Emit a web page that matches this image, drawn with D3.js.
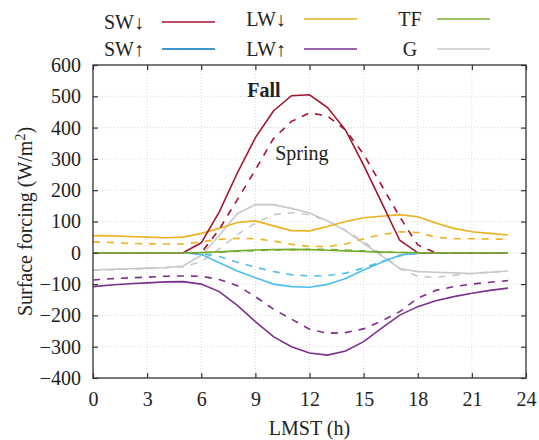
<!DOCTYPE html>
<html>
<head>
<meta charset="utf-8">
<script src="https://cdn.jsdelivr.net/npm/d3@7"></script>
<style>
  body { margin: 0; background: #fff; }
  text { font-family: "Liberation Serif", "Times New Roman", serif; fill: #222; }
</style>
</head>
<body>
<div id="chart"></div>
<script>
// hourly values, LMST 0..23
var hours = d3.range(0, 24);
var xTicks = [0, 3, 6, 9, 12, 15, 18, 21, 24];
var yTicks = [-400, -300, -200, -100, 0, 100, 200, 300, 400, 500, 600];

// Fall (solid)
var swDownFall = [0, 0, 0, 0, 0, 0, 32, 131, 255, 368, 453, 502, 505, 464, 392, 280, 160, 40, 0, 0, 0, 0, 0, 0];
var swUpFall = [0, 0, 0, 0, 0, 0, -5, -32, -58, -80, -100, -108, -110, -101, -82, -55, -30, -8, 0, 0, 0, 0, 0, 0];
var lwDownFall = [55, 54, 52, 50, 48, 50, 62, 78, 97, 102, 86, 71, 70, 84, 100, 112, 117, 122, 115, 95, 78, 67, 62, 57];
var lwUpFall = [-108, -103, -99, -96, -93, -92, -100, -124, -168, -220, -268, -300, -320, -327, -314, -284, -241, -199, -172, -153, -140, -129, -120, -113];
var tfFall = [0, 0, 0, 0, 0, 0, 1, 3, 6, 9, 10, 11, 10, 8, 6, 4, 2, 1, 0, 0, 0, 0, 0, 0];
var gFall = [-55, -53, -51, -49, -47, -42, -8, 55, 125, 154, 154, 142, 127, 102, 70, 30, -10, -50, -60, -62, -64, -66, -62, -58];

// Spring (dashed)
var swDownSpring = [0, 0, 0, 0, 0, 0, 0, 75, 170, 265, 365, 420, 447, 437, 392, 315, 215, 115, 25, 0, 0, 0, 0, 0];
var swUpSpring = [0, 0, 0, 0, 0, 0, -3, -12, -30, -46, -60, -70, -74, -73, -65, -48, -28, -10, -2, 0, 0, 0, 0, 0];
var lwDownSpring = [35, 33, 30, 29, 28, 28, 35, 43, 46, 45, 38, 27, 20, 20, 28, 45, 58, 67, 65, 50, 45, 45, 44, 43];
var lwUpSpring = [-87, -83, -80, -78, -75, -74, -75, -85, -105, -140, -180, -212, -244, -257, -255, -243, -218, -188, -145, -120, -108, -100, -94, -89];
var tfSpring = [0, 0, 0, 0, 0, 0, 0, 2, 5, 7, 9, 10, 11, 11, 9, 6, 3, 1, 0, 0, 0, 0, 0, 0];
var gSpring = [-55, -54, -52, -50, -48, -45, -28, 12, 58, 95, 122, 128, 122, 102, 72, 35, -5, -50, -75, -78, -72, -66, -62, -58];

var width = 539, height = 440;
var margin = { top: 65, right: 13, bottom: 62, left: 93 };
var w = width - margin.left - margin.right,
    h = height - margin.top - margin.bottom;

var svg = d3.select("#chart").append("svg")
    .attr("width", width)
    .attr("height", height);

var g = svg.append("g")
    .attr("transform", "translate(" + margin.left + "," + margin.top + ")");

var x = d3.scaleLinear().domain([0, 24]).range([0, w]);
var y = d3.scaleLinear().domain([-400, 600]).range([h, 0]);

// grid
g.append("g").selectAll("line").data(xTicks.slice(1, -1)).enter().append("line")
    .attr("x1", d => x(d)).attr("x2", d => x(d))
    .attr("y1", 0).attr("y2", h)
    .attr("stroke", "#d8d8d8").attr("stroke-dasharray", "1,2");
g.append("g").selectAll("line").data(yTicks.slice(1, -1)).enter().append("line")
    .attr("y1", d => y(d)).attr("y2", d => y(d))
    .attr("x1", 0).attr("x2", w)
    .attr("stroke", "#d8d8d8").attr("stroke-dasharray", "1,2");

// series
var series = [
    { name: "G", fall: gFall, spring: gSpring, color: "#c8c8c8" },
    { name: "LW↓", fall: lwDownFall, spring: lwDownSpring, color: "#EDB120" },
    { name: "LW↑", fall: lwUpFall, spring: lwUpSpring, color: "#7E2F8E" },
    { name: "SW↑", fall: swUpFall, spring: swUpSpring, color: "#4DBEEE" },
    { name: "SW↓", fall: swDownFall, spring: swDownSpring, color: "#A2142F" },
    { name: "TF", fall: tfFall, spring: tfSpring, color: "#77AC30" }
];

var line = d3.line()
    .x((d, i) => x(hours[i]))
    .y(d => y(d));

series.forEach(function (s) {
    g.append("path")
        .datum(s.spring)
        .attr("fill", "none")
        .attr("stroke", s.color)
        .attr("stroke-width", 1.6)
        .attr("stroke-dasharray", "7,7")
        .attr("d", line);
    g.append("path")
        .datum(s.fall)
        .attr("fill", "none")
        .attr("stroke", s.color)
        .attr("stroke-width", 1.6)
        .attr("d", line);
});

// axes, ticks inside on all four sides
function styleAxis(sel) {
    sel.select(".domain").remove();
    sel.selectAll(".tick line").attr("stroke", "#333").attr("stroke-width", 1.2);
    sel.selectAll(".tick text")
        .style("font-family", "Liberation Serif")
        .style("font-size", "20px")
        .attr("fill", "#222");
}

g.append("g")
    .attr("transform", "translate(0," + h + ")")
    .call(d3.axisBottom(x).tickValues(xTicks).tickSize(-5).tickPadding(14).tickFormat(d3.format("d")))
    .call(styleAxis);

g.append("g")
    .call(d3.axisTop(x).tickValues(xTicks).tickSize(-5).tickFormat(""))
    .call(styleAxis);

g.append("g")
    .call(d3.axisLeft(y).tickValues(yTicks).tickSize(-5).tickPadding(12).tickFormat(d3.format("d")))
    .call(styleAxis);

g.append("g")
    .attr("transform", "translate(" + w + ",0)")
    .call(d3.axisRight(y).tickValues(yTicks).tickSize(-5).tickFormat(""))
    .call(styleAxis);

// frame
g.append("rect")
    .attr("width", w).attr("height", h)
    .attr("fill", "none")
    .attr("stroke", "#333")
    .attr("stroke-width", 1.3);

// axis titles
svg.append("text")
    .attr("x", margin.left + w / 2)
    .attr("y", 435)
    .attr("text-anchor", "middle")
    .style("font-size", "20px")
    .text("LMST (h)");

svg.append("text")
    .attr("transform", "translate(32," + (margin.top + h / 2) + ") rotate(-90)")
    .attr("text-anchor", "middle")
    .style("font-size", "20px")
    .text("Surface forcing (W/m")
    .append("tspan").attr("baseline-shift", "super").style("font-size", "14px").text("2")
    .select(function () { return this.parentNode; })
    .append("tspan").text(")");

// season labels
g.append("text")
    .attr("x", x(8.55)).attr("y", y(502) + 1)
    .style("font-size", "20px").style("font-weight", "bold")
    .text("Fall");

g.append("text")
    .attr("x", x(10.1)).attr("y", y(296))
    .style("font-size", "20px")
    .text("Spring");

// legend
var legend = [
    { name: "SW↓", color: "#A2142F", cx: 124, lx: 162, row: 22 },
    { name: "SW↑", color: "#0072BD", cx: 124, lx: 162, row: 49 },
    { name: "LW↓", color: "#EDB120", cx: 266, lx: 304, row: 19 },
    { name: "LW↑", color: "#7E2F8E", cx: 266, lx: 304, row: 49 },
    { name: "TF", color: "#77AC30", cx: 410, lx: 437, row: 19 },
    { name: "G", color: "#c8c8c8", cx: 410, lx: 437, row: 49 }
];

var lg = svg.append("g");
legend.forEach(function (d) {
    lg.append("text")
        .attr("x", d.cx).attr("y", d.row + 6.5)
        .attr("text-anchor", "middle")
        .style("font-size", "20px")
        .text(d.name);
    lg.append("line")
        .attr("x1", d.lx).attr("x2", d.lx + 53)
        .attr("y1", d.row).attr("y2", d.row)
        .attr("stroke", d.color).attr("stroke-width", 1.6);
});
</script>
</body>
</html>
